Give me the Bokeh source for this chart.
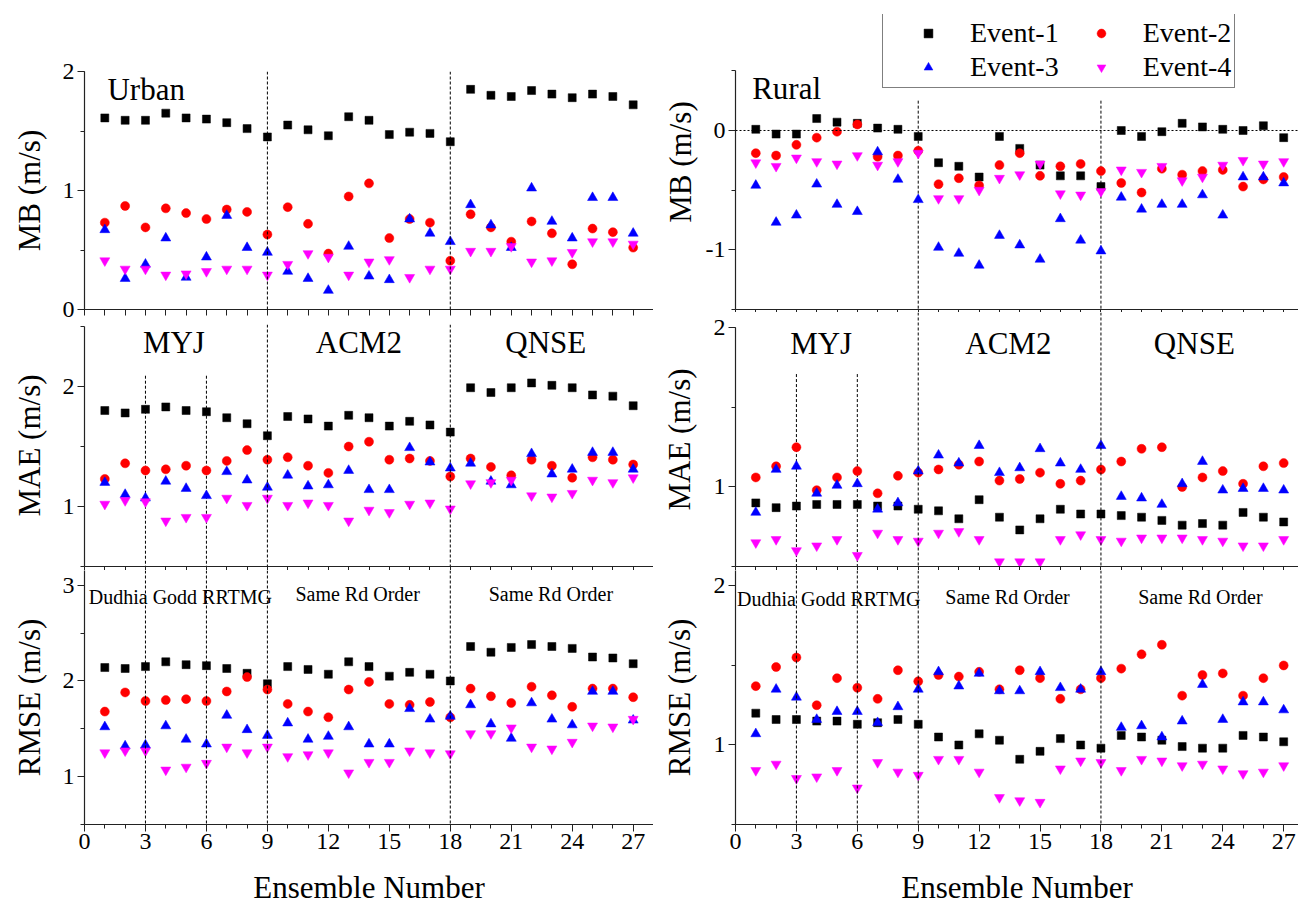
from bokeh.plotting import figure
from bokeh.models import Range1d, FixedTicker, Span, Label, Legend, LegendItem
from bokeh.layouts import row, column
from bokeh.embed import file_html
from bokeh.resources import INLINE

FONT = "Liberation Serif"

ensemble = list(range(1, 28))
x_major_ticks = [0, 3, 6, 9, 12, 15, 18, 21, 24, 27]
x_minor_ticks = list(range(0, 29))
event_names = ["Event-1", "Event-2", "Event-3", "Event-4"]
event_colors = ["black", "red", "blue", "magenta"]
event_markers = ["square", "circle", "triangle", "inverted_triangle"]
event_sizes = [8, 9, 10, 10]

# ---------------- Urban ----------------
urban_mb_ev1 = [1.61, 1.59, 1.59, 1.65, 1.61, 1.60, 1.57, 1.52, 1.45, 1.55, 1.51, 1.46, 1.62, 1.59,
                1.47, 1.49, 1.48, 1.41, 1.85, 1.80, 1.79, 1.84, 1.81, 1.78, 1.81, 1.79, 1.72]
urban_mb_ev2 = [0.73, 0.87, 0.69, 0.85, 0.81, 0.76, 0.84, 0.82, 0.63, 0.86, 0.72, 0.47, 0.95, 1.06,
                0.60, 0.76, 0.73, 0.41, 0.80, 0.69, 0.57, 0.74, 0.64, 0.38, 0.68, 0.65, 0.52]
urban_mb_ev3 = [0.67, 0.26, 0.38, 0.60, 0.27, 0.44, 0.79, 0.52, 0.48, 0.32, 0.26, 0.16, 0.53, 0.28,
                0.25, 0.76, 0.64, 0.57, 0.88, 0.71, 0.52, 1.02, 0.74, 0.60, 0.94, 0.94, 0.64]
urban_mb_ev4 = [0.41, 0.34, 0.34, 0.29, 0.30, 0.32, 0.34, 0.34, 0.29, 0.38, 0.47, 0.44, 0.29, 0.40,
                0.42, 0.27, 0.34, 0.34, 0.49, 0.49, 0.53, 0.40, 0.41, 0.48, 0.57, 0.57, 0.55]

urban_mae_ev1 = [1.80, 1.78, 1.81, 1.83, 1.80, 1.79, 1.74, 1.69, 1.59, 1.75, 1.73, 1.67, 1.76, 1.74,
                 1.67, 1.71, 1.68, 1.62, 1.99, 1.95, 1.99, 2.03, 2.01, 1.99, 1.93, 1.92, 1.84]
urban_mae_ev2 = [1.23, 1.36, 1.30, 1.31, 1.34, 1.30, 1.38, 1.47, 1.39, 1.41, 1.34, 1.28, 1.50, 1.54,
                 1.39, 1.40, 1.38, 1.25, 1.40, 1.33, 1.26, 1.39, 1.34, 1.24, 1.41, 1.39, 1.35]
urban_mae_ev3 = [1.20, 1.10, 1.07, 1.21, 1.15, 1.09, 1.29, 1.22, 1.16, 1.26, 1.17, 1.18, 1.30, 1.14,
                 1.14, 1.49, 1.37, 1.32, 1.36, 1.21, 1.18, 1.44, 1.27, 1.31, 1.45, 1.45, 1.31]
urban_mae_ev4 = [1.02, 1.05, 1.04, 0.88, 0.91, 0.91, 1.07, 1.01, 1.07, 1.01, 1.03, 1.01, 0.88, 0.97,
                 0.95, 1.02, 1.03, 0.98, 1.19, 1.20, 1.22, 1.09, 1.08, 1.11, 1.22, 1.20, 1.24]

urban_rmse_ev1 = [2.14, 2.13, 2.15, 2.20, 2.17, 2.16, 2.13, 2.08, 1.97, 2.15, 2.12, 2.07, 2.20, 2.15,
                  2.05, 2.09, 2.07, 2.00, 2.36, 2.30, 2.35, 2.38, 2.36, 2.34, 2.25, 2.24, 2.18]
urban_rmse_ev2 = [1.68, 1.88, 1.79, 1.80, 1.81, 1.79, 1.89, 2.04, 1.91, 1.76, 1.68, 1.62, 1.91, 1.99,
                  1.76, 1.75, 1.78, 1.62, 1.92, 1.84, 1.77, 1.94, 1.85, 1.73, 1.92, 1.92, 1.83]
urban_rmse_ev3 = [1.52, 1.32, 1.33, 1.53, 1.39, 1.34, 1.64, 1.49, 1.43, 1.56, 1.39, 1.42, 1.52, 1.34,
                  1.34, 1.71, 1.60, 1.63, 1.75, 1.55, 1.40, 1.77, 1.60, 1.54, 1.89, 1.89, 1.59]
urban_rmse_ev4 = [1.25, 1.27, 1.27, 1.07, 1.10, 1.14, 1.31, 1.25, 1.31, 1.21, 1.23, 1.25, 1.04, 1.15,
                  1.15, 1.27, 1.25, 1.24, 1.45, 1.45, 1.51, 1.31, 1.29, 1.36, 1.53, 1.52, 1.60]

# ---------------- Rural ----------------
rural_mb_ev1 = [0.01, -0.03, -0.03, 0.10, 0.07, 0.06, 0.02, 0.01, -0.05, -0.27, -0.30, -0.39, -0.05, -0.15,
                -0.29, -0.38, -0.38, -0.47, 0.00, -0.05, -0.01, 0.06, 0.03, 0.01, 0.00, 0.04, -0.06]
rural_mb_ev2 = [-0.19, -0.21, -0.12, -0.06, -0.01, 0.05, -0.22, -0.21, -0.17, -0.45, -0.40, -0.46, -0.29, -0.19,
                -0.38, -0.30, -0.28, -0.34, -0.44, -0.52, -0.32, -0.37, -0.34, -0.33, -0.47, -0.41, -0.39]
rural_mb_ev3 = [-0.46, -0.77, -0.71, -0.45, -0.62, -0.68, -0.18, -0.41, -0.58, -0.98, -1.03, -1.13, -0.88, -0.96,
                -1.08, -0.74, -0.92, -1.01, -0.56, -0.66, -0.62, -0.62, -0.54, -0.71, -0.39, -0.39, -0.44]
rural_mb_ev4 = [-0.27, -0.30, -0.23, -0.26, -0.28, -0.21, -0.29, -0.26, -0.19, -0.57, -0.57, -0.50, -0.40, -0.37,
                -0.28, -0.53, -0.54, -0.51, -0.33, -0.35, -0.30, -0.42, -0.39, -0.29, -0.25, -0.28, -0.26]

rural_mae_ev1 = [0.90, 0.87, 0.88, 0.89, 0.89, 0.89, 0.88, 0.88, 0.86, 0.85, 0.80, 0.92, 0.81, 0.73,
                 0.80, 0.86, 0.83, 0.83, 0.82, 0.81, 0.79, 0.76, 0.77, 0.76, 0.84, 0.81, 0.78]
rural_mae_ev2 = [1.06, 1.13, 1.25, 0.98, 1.06, 1.10, 0.96, 1.07, 1.09, 1.11, 1.14, 1.16, 1.04, 1.05,
                 1.09, 1.02, 1.04, 1.11, 1.16, 1.24, 1.25, 1.00, 1.06, 1.10, 1.02, 1.13, 1.15]
rural_mae_ev3 = [0.84, 1.11, 1.13, 0.96, 1.01, 1.02, 0.86, 0.90, 1.10, 1.20, 1.15, 1.26, 1.09, 1.12,
                 1.24, 1.15, 1.11, 1.26, 0.94, 0.93, 0.89, 1.02, 1.16, 0.98, 0.99, 0.99, 0.98]
rural_mae_ev4 = [0.65, 0.67, 0.60, 0.63, 0.67, 0.57, 0.71, 0.67, 0.66, 0.71, 0.72, 0.67, 0.53, 0.53,
                 0.53, 0.67, 0.70, 0.67, 0.66, 0.68, 0.68, 0.68, 0.67, 0.66, 0.63, 0.63, 0.67]

rural_rmse_ev1 = [1.20, 1.16, 1.16, 1.15, 1.15, 1.13, 1.14, 1.16, 1.13, 1.05, 1.00, 1.07, 1.03, 0.91,
                  0.96, 1.04, 1.00, 0.98, 1.06, 1.05, 1.03, 0.99, 0.98, 0.98, 1.06, 1.05, 1.02]
rural_rmse_ev2 = [1.37, 1.49, 1.55, 1.25, 1.42, 1.36, 1.29, 1.47, 1.40, 1.44, 1.43, 1.46, 1.35, 1.47,
                  1.42, 1.29, 1.35, 1.42, 1.48, 1.57, 1.63, 1.31, 1.44, 1.45, 1.31, 1.42, 1.50]
rural_rmse_ev3 = [1.07, 1.35, 1.30, 1.16, 1.21, 1.21, 1.14, 1.24, 1.35, 1.46, 1.37, 1.45, 1.34, 1.34,
                  1.46, 1.36, 1.35, 1.46, 1.11, 1.12, 1.05, 1.15, 1.38, 1.16, 1.27, 1.27, 1.22]
rural_rmse_ev4 = [0.84, 0.88, 0.79, 0.80, 0.84, 0.73, 0.89, 0.83, 0.81, 0.91, 0.91, 0.83, 0.67, 0.65,
                  0.64, 0.85, 0.90, 0.89, 0.84, 0.91, 0.90, 0.87, 0.88, 0.85, 0.82, 0.83, 0.87]

# separator positions (ensemble numbers)
pbl_separators = [9, 18]
rad_separators = [3, 6]
pbl_names = ["MYJ", "ACM2", "QNSE"]


def make_panel(width, height, b_left, b_top, b_bottom, x_end, y_start, y_end,
               yticks, yminor, ylabel, ylabel_standoff, ybounds="auto",
               x_labels=False, tick_out=5):
    p = figure(width=width, height=height,
               x_range=Range1d(0, x_end), y_range=Range1d(y_start, y_end),
               output_backend="svg", toolbar_location=None,
               min_border_left=b_left, min_border_right=0,
               min_border_top=b_top, min_border_bottom=b_bottom,
               background_fill_color="white", border_fill_color="white")
    p.outline_line_color = None
    p.xgrid.visible = False
    p.ygrid.visible = False
    xa = p.xaxis[0]
    ya = p.yaxis[0]
    for ax in (xa, ya):
        ax.axis_line_color = "#222222"
        ax.axis_line_width = 1.2
        ax.major_tick_line_color = "#222222"
        ax.minor_tick_line_color = "#222222"
        ax.major_tick_in = 0
        ax.minor_tick_in = 0
        ax.major_label_text_font = FONT
        ax.major_label_text_font_size = "24px"
        ax.major_label_text_color = "black"
        ax.axis_label_text_font = FONT
        ax.axis_label_text_font_size = "31px"
        ax.axis_label_text_font_style = "normal"
        ax.axis_label_text_color = "black"
    if x_labels:
        xa.ticker = FixedTicker(ticks=x_major_ticks, minor_ticks=x_minor_ticks)
        xa.major_tick_out = 7
        xa.minor_tick_out = 4
        xa.major_label_standoff = 2
        xa.axis_label = "Ensemble Number"
        xa.axis_label_standoff = 18
    else:
        # panel separator axis: ticks only, labels are shown on the bottom panel
        xa.ticker = FixedTicker(ticks=[], minor_ticks=x_minor_ticks)
        xa.minor_tick_out = tick_out
        xa.major_label_standoff = 0
    ya.ticker = FixedTicker(ticks=yticks, minor_ticks=yminor)
    ya.major_tick_out = 7
    ya.minor_tick_out = 4
    ya.major_label_standoff = 3
    ya.major_label_overrides = {t: str(t).replace("\u2212", "-") for t in yticks}
    ya.axis_label = ylabel
    ya.axis_label_standoff = ylabel_standoff
    ya.bounds = ybounds
    return p


def add_points(p, series):
    rends = []
    for vals, col, mk, sz in zip(series, event_colors, event_markers, event_sizes):
        r = p.scatter(x=ensemble, y=vals, marker=mk, size=sz,
                      fill_color=col, line_color=col, line_width=0.5)
        rends.append(r)
    return rends


def vline(p, xs):
    for xv in xs:
        p.add_layout(Span(location=xv, dimension="height", line_color="black",
                          line_width=1, line_dash="3 2"))


def partial_vlines(p, xs, y_top, y_bottom):
    p.segment(x0=xs, y0=[y_top] * len(xs), x1=xs, y1=[y_bottom] * len(xs),
              line_color="black", line_width=1, line_dash="3 2")


def add_text(p, x, y, text, size, align="left"):
    p.add_layout(Label(x=x, y=y, text=text, text_font=FONT, text_font_size=size,
                       text_align=align, text_baseline="middle", text_color="black"))


LW, RW = 653, 645
LB, RB = 84, 82
XL_END = 28.0
XR_END = 27.73

# ---------- left column (Urban) ----------
u_mb = make_panel(LW, 324, LB, 71, 15, XL_END, 0, 2, [0, 1, 2], [0, 0.5, 1, 1.5, 2],
                  "MB (m/s)", 13, tick_out=6)
vline(u_mb, pbl_separators)
add_points(u_mb, [urban_mb_ev1, urban_mb_ev2, urban_mb_ev3, urban_mb_ev4])
add_text(u_mb, 1.13, 1.846, "Urban", "31px")

u_mae = make_panel(LW, 246, LB, 0, 4, XL_END, 0.5, 2.517, [1, 2], [0.5, 1, 1.5, 2, 2.5],
                   "MAE (m/s)", 13, ybounds=(0.5, 2.5), tick_out=4)
vline(u_mae, pbl_separators)
partial_vlines(u_mae, rad_separators, 2.09, 0.5)
add_points(u_mae, [urban_mae_ev1, urban_mae_ev2, urban_mae_ev3, urban_mae_ev4])
for xc, name in zip([4.4, 13.5, 22.7], pbl_names):
    add_text(u_mae, xc, 2.37, name, "31px", "center")

u_rmse = make_panel(LW, 345, LB, 0, 91, XL_END, 0.5, 3.154, [1, 2, 3], [0.5, 1, 1.5, 2, 2.5, 3],
                    "RMSE (m/s)", 13, x_labels=True)
vline(u_rmse, rad_separators + pbl_separators)
add_points(u_rmse, [urban_rmse_ev1, urban_rmse_ev2, urban_rmse_ev3, urban_rmse_ev4])
add_text(u_rmse, 0.21, 2.88, "Dudhia Godd RRTMG", "20px", "left")
add_text(u_rmse, 13.44, 2.91, "Same Rd Order", "20px", "center")
add_text(u_rmse, 22.95, 2.91, "Same Rd Order", "20px", "center")

# ---------- right column (Rural) ----------
r_mb = make_panel(RW, 312, RB, 14, 3, XR_END, -1.5, 0.972, [-1, 0], [-1.5, -1, -0.5, 0, 0.5],
                  "MB (m/s)", 5, ybounds=(-1.5, 0.5), tick_out=3)
r_mb.add_layout(Span(location=0, dimension="width", line_color="black",
                     line_width=1, line_dash="2 2"))
partial_vlines(r_mb, pbl_separators, 0.25, -1.5)
r_rends = add_points(r_mb, [rural_mb_ev1, rural_mb_ev2, rural_mb_ev3, rural_mb_ev4])
add_text(r_mb, 0.82, 0.352, "Rural", "31px")

legend = Legend(items=[LegendItem(label=n, renderers=[r]) for n, r in zip(event_names, r_rends)],
                location=(147, 221), orientation="horizontal", ncols=2,
                label_text_font=FONT, label_text_font_size="28px", label_text_color="black",
                border_line_color="black", border_line_width=1,
                background_fill_color="white", background_fill_alpha=1.0,
                padding=3, spacing=0, margin=0, glyph_width=84, glyph_height=22,
                label_height=34, label_standoff=0)
r_mb.add_layout(legend)

r_mae = make_panel(RW, 258, RB, 0, 4, XR_END, 0.5, 2.097, [1, 2], [0.5, 1, 1.5, 2],
                   "MAE (m/s)", 14, ybounds=(0.5, 2.0), tick_out=4)
vline(r_mae, pbl_separators)
partial_vlines(r_mae, rad_separators, 1.71, 0.5)
add_points(r_mae, [rural_mae_ev1, rural_mae_ev2, rural_mae_ev3, rural_mae_ev4])
for xc, name in zip([4.22, 13.44, 22.6], pbl_names):
    add_text(r_mae, xc, 1.9, name, "31px", "center")

r_rmse = make_panel(RW, 345, RB, 0, 91, XR_END, 0.5, 2.097, [1, 2], [0.5, 1, 1.5, 2],
                    "RMSE (m/s)", 14, x_labels=True)
vline(r_rmse, rad_separators + pbl_separators)
add_points(r_rmse, [rural_rmse_ev1, rural_rmse_ev2, rural_rmse_ev3, rural_rmse_ev4])
add_text(r_rmse, 0.08, 1.92, "Dudhia Godd RRTMG", "20px", "left")
add_text(r_rmse, 13.4, 1.93, "Same Rd Order", "20px", "center")
add_text(r_rmse, 22.9, 1.93, "Same Rd Order", "20px", "center")

layout = row(column(u_mb, u_mae, u_rmse), column(r_mb, r_mae, r_rmse))

with open("out.html", "w") as f:
    f.write(file_html(layout, INLINE))
